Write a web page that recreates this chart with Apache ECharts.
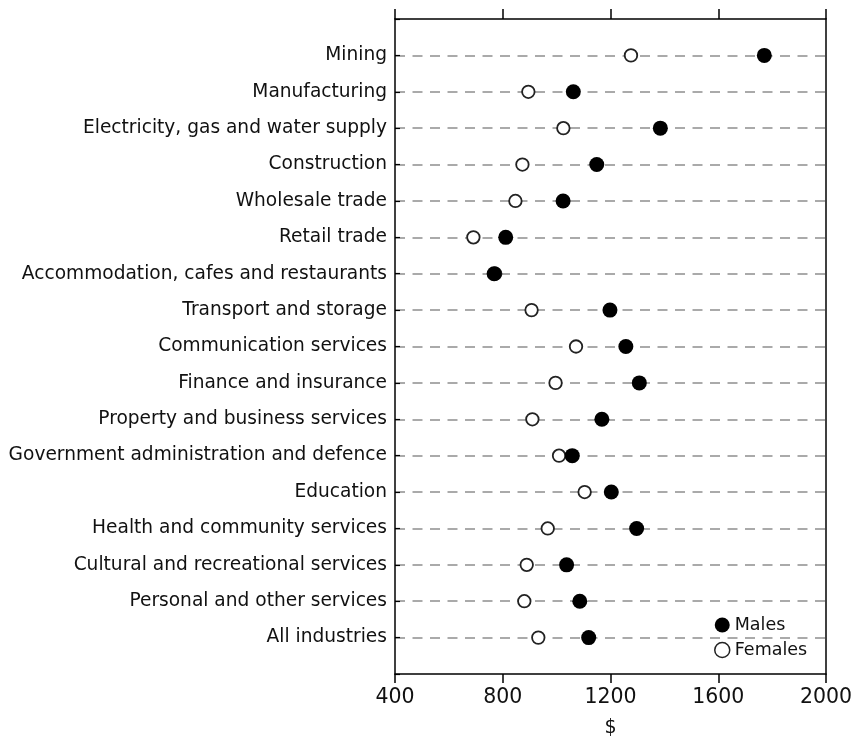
<!DOCTYPE html>
<html>
<head>
<meta charset="utf-8">
<script src="https://cdn.jsdelivr.net/npm/echarts@6/dist/echarts.min.js"></script>
<style>
html,body{margin:0;padding:0;background:#fff;}
#chart{width:854px;height:736px;}
</style>
</head>
<body>
<div id="chart"></div>
<script>
var categories = [
  'Mining',
  'Manufacturing',
  'Electricity, gas and water supply',
  'Construction',
  'Wholesale trade',
  'Retail trade',
  'Accommodation, cafes and restaurants',
  'Transport and storage',
  'Communication services',
  'Finance and insurance',
  'Property and business services',
  'Government administration and defence',
  'Education',
  'Health and community services',
  'Cultural and recreational services',
  'Personal and other services',
  'All industries'
];
var males   = [1771, 1062, 1385, 1149, 1024, 811, 768, 1198, 1257, 1307, 1168, 1058, 1203, 1297, 1037, 1086, 1119];
var females = [1276,  895, 1025,  873,  847, 691, 772,  907, 1072,  996,  910, 1009, 1104,  967,  889,  880,  932];
var xTicks = [400, 800, 1200, 1600, 2000];

var FONT = 'DejaVu Sans';
var chart = echarts.init(document.getElementById('chart'), null, {renderer: 'canvas'});

function pairs(arr) {
  return arr.map(function (v, i) { return [v, i + 1]; });
}

var option = {
  backgroundColor: '#ffffff',
  animation: false,
  textStyle: {fontFamily: FONT},
  grid: {left: 395, right: 28, top: 19, bottom: 62, containLabel: false, outerBoundsMode: 'none'},
  legend: {
    orient: 'vertical',
    left: 709,
    top: 611,
    itemWidth: 15,
    itemHeight: 15,
    itemGap: 7,
    icon: 'circle',
    textStyle: {fontFamily: FONT, fontSize: 17.5, color: '#111'},
    data: [
      {name: 'Males'},
      {name: 'Females', itemStyle: {borderWidth: 1.5}}
    ]
  },
  xAxis: [
    {
      type: 'value',
      position: 'bottom',
      min: xTicks[0],
      max: xTicks[xTicks.length - 1],
      interval: xTicks[1] - xTicks[0],
      axisLine: {show: true, onZero: false, lineStyle: {color: '#000', width: 1.5}},
      axisTick: {show: true, inside: false, length: 9, lineStyle: {color: '#000', width: 1.5}},
      axisLabel: {
        show: true, margin: 13, fontFamily: FONT, fontSize: 20.5, color: '#111',
        formatter: function (v) { return String(v); }
      },
      splitLine: {show: false},
      name: '$',
      nameLocation: 'middle',
      nameGap: 45,
      nameTextStyle: {fontFamily: FONT, fontSize: 19, color: '#111'}
    },
    {
      type: 'value',
      position: 'top',
      min: xTicks[0],
      max: xTicks[xTicks.length - 1],
      interval: xTicks[1] - xTicks[0],
      axisLine: {show: true, onZero: false, lineStyle: {color: '#000', width: 1.5}},
      axisTick: {show: true, inside: false, length: 10, lineStyle: {color: '#000', width: 1.5}},
      axisLabel: {show: false},
      splitLine: {show: false}
    }
  ],
  yAxis: [
    {
      type: 'value',
      position: 'left',
      inverse: true,
      min: 0,
      max: categories.length + 1,
      interval: 1,
      axisLine: {show: true, onZero: false, lineStyle: {color: '#000', width: 1.5}},
      axisTick: {show: true, inside: true, length: 5, lineStyle: {color: '#000', width: 1.2}},
      axisLabel: {
        show: true,
        margin: 8,
        fontFamily: FONT,
        fontSize: 18.6,
        color: '#111',
        formatter: function (v) {
          return (v >= 1 && v <= categories.length) ? categories[v - 1] : '';
        }
      },
      splitLine: {
        show: true,
        showMinLine: false,
        showMaxLine: false,
        lineStyle: {color: '#8f8f8f', width: 1.6, type: [10, 7.5]}
      }
    },
    {
      type: 'value',
      position: 'right',
      inverse: true,
      min: 0,
      max: categories.length + 1,
      interval: 1,
      axisLine: {show: true, onZero: false, lineStyle: {color: '#000', width: 1.5}},
      axisTick: {show: false},
      axisLabel: {show: false},
      splitLine: {show: false}
    }
  ],
  series: [
    {
      name: 'Females',
      type: 'scatter',
      xAxisIndex: 0,
      yAxisIndex: 0,
      symbol: 'circle',
      symbolSize: 12.5,
      itemStyle: {color: '#ffffff', borderColor: '#222', borderWidth: 1.8, opacity: 1},
      data: pairs(females),
      z: 3
    },
    {
      name: 'Males',
      type: 'scatter',
      xAxisIndex: 0,
      yAxisIndex: 0,
      symbol: 'circle',
      symbolSize: 15,
      itemStyle: {color: '#000000', opacity: 1},
      data: pairs(males),
      z: 4
    }
  ]
};
chart.setOption(option);
</script>
</body>
</html>
